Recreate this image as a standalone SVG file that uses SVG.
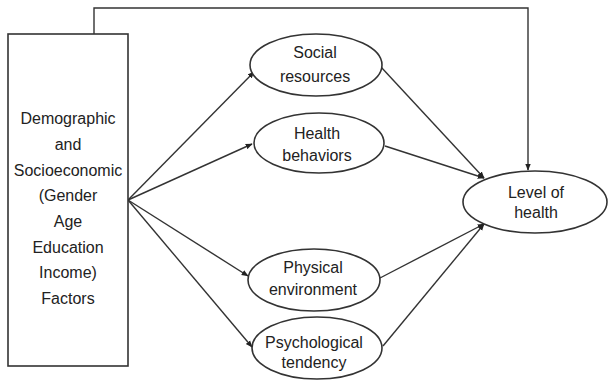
<svg xmlns="http://www.w3.org/2000/svg" width="609" height="380" viewBox="0 0 609 380">
<style>
.n{fill:#fff;stroke:#333;stroke-width:1.6}
.t{font-family:"Liberation Sans",Arial,sans-serif;font-size:16px;fill:#222;text-anchor:middle}
.c{fill:none;stroke:#333;stroke-width:1.4}
</style>
<defs>
<marker id="a" viewBox="0 0 10 10" refX="9" refY="5" markerWidth="7" markerHeight="7" orient="auto" markerUnits="userSpaceOnUse">
<path d="M0,1 L10,5 L0,9 z" fill="#222"/>
</marker>
</defs>
<rect width="609" height="380" fill="#fff"/>
<g id="connectors">
<path class="c" d="M94,34 V8 H528 V170" marker-end="url(#a)"/>
<line class="c" x1="128" y1="200" x2="254" y2="72" marker-end="url(#a)"/>
<line class="c" x1="128" y1="200" x2="252" y2="144" marker-end="url(#a)"/>
<line class="c" x1="128" y1="200" x2="248" y2="276" marker-end="url(#a)"/>
<line class="c" x1="128" y1="200" x2="252" y2="347" marker-end="url(#a)"/>
<line class="c" x1="381" y1="67" x2="484" y2="178" marker-end="url(#a)"/>
<line class="c" x1="385" y1="146" x2="484" y2="178" marker-end="url(#a)"/>
<line class="c" x1="380" y1="278" x2="484" y2="224" marker-end="url(#a)"/>
<line class="c" x1="383" y1="346" x2="484" y2="224" marker-end="url(#a)"/>
</g>
<g id="demographic">
<rect class="n" x="8" y="34" width="120" height="332"/>
<text class="t" x="68" y="124">Demographic</text>
<text class="t" x="68" y="150">and</text>
<text class="t" x="68" y="176">Socioeconomic</text>
<text class="t" x="68" y="201">(Gender</text>
<text class="t" x="68" y="227">Age</text>
<text class="t" x="68" y="253">Education</text>
<text class="t" x="68" y="278">Income)</text>
<text class="t" x="68" y="304">Factors</text>
</g>
<g id="social">
<ellipse class="n" cx="316" cy="65" rx="66" ry="31"/>
<text class="t" x="315" y="58">Social</text>
<text class="t" x="315" y="82">resources</text>
</g>
<g id="health">
<ellipse class="n" cx="319" cy="143" rx="65" ry="30"/>
<text class="t" x="317" y="139">Health</text>
<text class="t" x="317" y="161">behaviors</text>
</g>
<g id="physical">
<ellipse class="n" cx="314" cy="280" rx="66" ry="31"/>
<text class="t" x="313" y="273">Physical</text>
<text class="t" x="313" y="295">environment</text>
</g>
<g id="psychological">
<ellipse class="n" cx="317" cy="348" rx="65" ry="31"/>
<text class="t" x="314" y="348">Psychological</text>
<text class="t" x="314" y="368">tendency</text>
</g>
<g id="level">
<ellipse class="n" cx="535" cy="202" rx="72" ry="31"/>
<text class="t" x="536" y="198">Level of</text>
<text class="t" x="536" y="218">health</text>
</g>
</svg>
